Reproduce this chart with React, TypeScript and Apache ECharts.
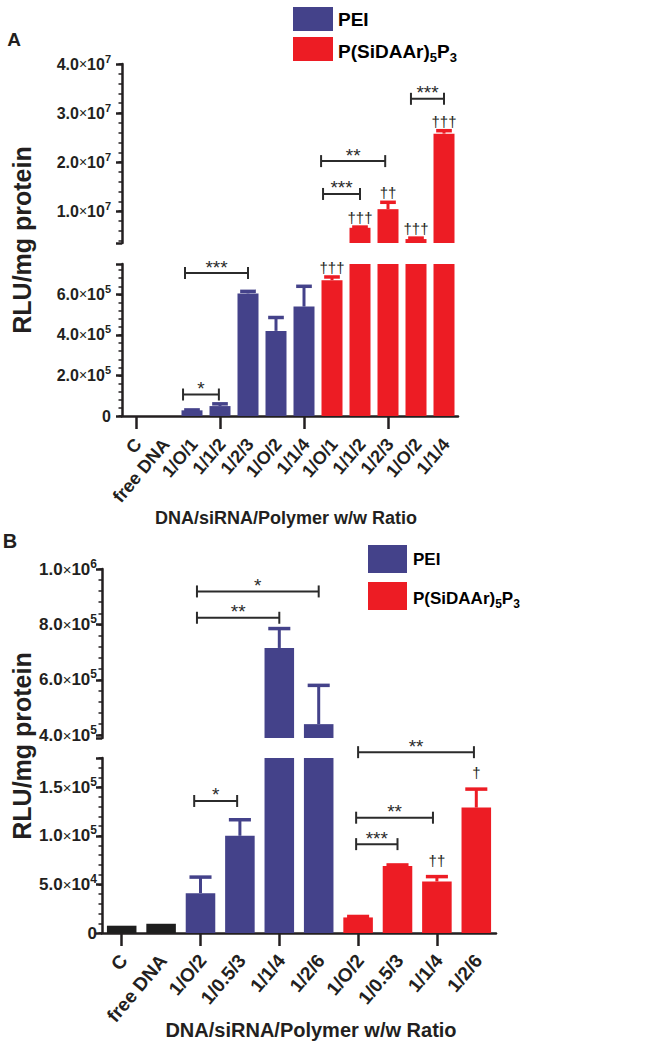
import React, { useEffect, useRef } from 'react';
import * as echarts from 'echarts';

const FONT = '"Liberation Sans", Arial, Helvetica, sans-serif';
const NAVY = '#44428a';
const RED = '#ed1c24';
const BLACK = '#1e1e1e';
const INK = '#231f20';

// ---------- Panel A data ----------
const catsA = ['C', 'free DNA', '1/O/1', '1/1/2', '1/2/3', '1/O/2', '1/1/4', '1/O/1', '1/1/2', '1/2/3', '1/O/2', '1/1/4'];
const groupA = ['ctrl', 'ctrl', 'PEI', 'PEI', 'PEI', 'PEI', 'PEI', 'PS', 'PS', 'PS', 'PS', 'PS'];
const meanA = [0, 0, 2.8e4, 4.9e4, 6.05e5, 4.2e5, 5.4e5, 6.7e5, 6.6e6, 1.04e7, 4.3e6, 2.58e7];
const errA = [0, 0, 0.2e4, 1.1e4, 1.0e4, 6.6e4, 1.0e5, 1.6e4, 1.5e5, 1.4e6, 2.0e5, 6.0e5];
const daggerA = ['', '', '', '', '', '', '', '†††', '†††', '††', '†††', '†††'];
const ticksAHigh = [1e7, 2e7, 3e7, 4e7];
const ticksALow = [0, 2e5, 4e5, 6e5];
const rangeAHigh = [3.5e6, 4e7];
const rangeALow = [0, 7.5e5];
const bracketsA = [
  { seg: 'low', from: 2, fromOff: -0.32, to: 3, toOff: -0.04, y: 1.06e5, text: '*' },
  { seg: 'low', from: 2, fromOff: -0.25, to: 4, toOff: 0, y: 7.05e5, text: '***' },
  { seg: 'high', from: 7, fromOff: -0.32, to: 8, toOff: 0, y: 1.35e7, text: '***' },
  { seg: 'high', from: 7, fromOff: -0.39, to: 9, toOff: -0.1, y: 2.02e7, text: '**' },
  { seg: 'high', from: 10, fromOff: -0.18, to: 11, toOff: 0, y: 3.29e7, text: '***' },
];

// ---------- Panel B data ----------
const catsB = ['C', 'free DNA', '1/O/2', '1/0.5/3', '1/1/4', '1/2/6', '1/O/2', '1/0.5/3', '1/1/4', '1/2/6'];
const groupB = ['ctrl', 'ctrl', 'PEI', 'PEI', 'PEI', 'PEI', 'PS', 'PS', 'PS', 'PS'];
const meanB = [7.5e3, 9.5e3, 4.1e4, 1.0e5, 7.15e5, 4.4e5, 1.6e4, 6.9e4, 5.3e4, 1.29e5];
const errB = [0, 0, 1.65e4, 1.65e4, 7.0e4, 1.4e5, 1.0e3, 1.0e3, 5.0e3, 1.9e4];
const daggerB = ['', '', '', '', '', '', '', '', '††', '†'];
const ticksBHigh = [4e5, 6e5, 8e5, 1e6];
const ticksBLow = [0, 5e4, 1e5, 1.5e5];
const rangeBHigh = [3.9e5, 1e6];
const rangeBLow = [0, 1.8e5];
const bracketsB = [
  { seg: 'high', from: 2, fromOff: -0.09, to: 5, toOff: 0, y: 9.19e5, text: '*' },
  { seg: 'high', from: 2, fromOff: -0.09, to: 4, toOff: 0, y: 8.24e5, text: '**' },
  { seg: 'low', from: 2, fromOff: -0.16, to: 3, toOff: -0.07, y: 1.358e5, text: '*' },
  { seg: 'low', from: 6, fromOff: 0, to: 9, toOff: -0.06, y: 1.86e5, text: '**' },
  { seg: 'low', from: 6, fromOff: -0.05, to: 8, toOff: -0.1, y: 1.186e5, text: '**' },
  { seg: 'low', from: 6, fromOff: -0.05, to: 7, toOff: 0, y: 9.14e4, text: '***' },
];

const legendNames = ['PEI', 'P(SiDAAr)5P3'];

function colorOf(g: string) {
  return g === 'PEI' ? NAVY : g === 'PS' ? RED : BLACK;
}

function sci(v: number) {
  if (v === 0) return '{m|0}';
  const e = Math.floor(Math.log10(v) + 1e-9);
  const m = (v / Math.pow(10, e)).toFixed(1);
  return `{m|${m}}{x|×}{m|10}{s|${e}}`;
}

function rich(size: number) {
  return {
    m: { fontSize: size, fontWeight: 'bold', fontFamily: FONT, color: INK, lineHeight: size + 6 },
    x: { fontSize: size - 2, fontFamily: FONT, color: INK, lineHeight: size + 6 },
    s: { fontSize: Math.round(size * 0.68), fontWeight: 'bold', fontFamily: FONT, color: INK, lineHeight: 10, verticalAlign: 'top' },
  };
}

function minorTicks(min: number, max: number, step: number) {
  const out: number[] = [];
  const k0 = Math.ceil(min / step - 1e-9);
  const k1 = Math.floor(max / step + 1e-9);
  for (let k = k0; k <= k1; k++) out.push(k * step);
  return out;
}

type Seg = {
  grid: { left: number; top: number; width: number; height: number };
  cats: string[];
  group: string[];
  mean: number[];
  err: number[];
  dagger: string[];
  range: number[];
  ticks: number[];
  minorStep: number;
  showX: boolean;
  labelSize: number;
  xLabelSize: number;
  labelMargin: number;
  xMargin: number;
  brackets: any[];
  daggerGap: number;
};

function buildOption() {
  const segs: Seg[] = [
    {
      grid: { left: 122, top: 64, width: 336, height: 179 },
      cats: catsA, group: groupA, mean: meanA, err: errA, dagger: daggerA,
      range: rangeAHigh, ticks: ticksAHigh, minorStep: 2e6, showX: false,
      labelSize: 16, xLabelSize: 18, labelMargin: 11, xMargin: 25,
      brackets: bracketsA.filter((b) => b.seg === 'high'), daggerGap: 2,
    },
    {
      grid: { left: 122, top: 264, width: 336, height: 152 },
      cats: catsA, group: groupA, mean: meanA, err: errA, dagger: daggerA,
      range: rangeALow, ticks: ticksALow, minorStep: 4e4, showX: true,
      labelSize: 16, xLabelSize: 18, labelMargin: 11, xMargin: 25,
      brackets: bracketsA.filter((b) => b.seg === 'low'), daggerGap: 2,
    },
    {
      grid: { left: 102, top: 569, width: 394, height: 169 },
      cats: catsB, group: groupB, mean: meanB, err: errB, dagger: daggerB,
      range: rangeBHigh, ticks: ticksBHigh, minorStep: 4e4, showX: false,
      labelSize: 17, xLabelSize: 19, labelMargin: 5, xMargin: 24,
      brackets: bracketsB.filter((b) => b.seg === 'high'), daggerGap: 9,
    },
    {
      grid: { left: 102, top: 758, width: 394, height: 175 },
      cats: catsB, group: groupB, mean: meanB, err: errB, dagger: daggerB,
      range: rangeBLow, ticks: ticksBLow, minorStep: 1e4, showX: true,
      labelSize: 17, xLabelSize: 19, labelMargin: 5, xMargin: 24,
      brackets: bracketsB.filter((b) => b.seg === 'low'), daggerGap: 9,
    },
  ];

  const grid: any[] = [];
  const xAxis: any[] = [];
  const yAxis: any[] = [];
  const series: any[] = [];

  segs.forEach((s, g) => {
    grid.push({ ...s.grid, containLabel: false });
    xAxis.push({
      type: 'category',
      gridIndex: g,
      data: s.cats,
      show: s.showX,
      axisLine: { show: true, lineStyle: { color: INK, width: 2.5 } },
      axisTick: { show: true, alignWithLabel: true, length: 13, lineStyle: { color: INK, width: 2.5 } },
      axisLabel: { show: false },
      splitLine: { show: false },
    });
    const [min, max] = s.range;
    const majorTicks = [min, ...s.ticks.filter((t) => t > min && t < max), max];
    yAxis.push({
      type: 'value',
      gridIndex: g,
      position: 'left',
      min,
      max,
      axisLine: { show: true, lineStyle: { color: INK, width: 2.5 } },
      axisTick: { show: true, length: 6, customValues: majorTicks, lineStyle: { color: INK, width: 2.5 } },
      axisLabel: {
        customValues: s.ticks,
        margin: s.labelMargin,
        formatter: (v: number) => sci(v),
        rich: rich(s.labelSize),
      },
      splitLine: { show: false },
    });
    yAxis.push({
      type: 'value',
      gridIndex: g,
      position: 'left',
      min,
      max,
      axisLine: { show: false },
      axisTick: { show: true, length: 3.5, customValues: minorTicks(min, max, s.minorStep), lineStyle: { color: INK, width: 1.5 } },
      axisLabel: { show: false },
      splitLine: { show: false },
    });
    const yi = g * 2;

    series.push({
      type: 'bar',
      xAxisIndex: g,
      yAxisIndex: yi,
      barWidth: '75%',
      clip: true,
      silent: true,
      data: s.mean.map((v, i) => ({ value: v, itemStyle: { color: colorOf(s.group[i]) } })),
    });

    const inRange = s.mean
      .map((v, i) => [i, v, s.err[i]])
      .filter((d) => d[1] > 0 && d[1] >= min && d[1] <= max);

    series.push({
      type: 'custom',
      xAxisIndex: g,
      yAxisIndex: yi,
      silent: true,
      encode: { x: 0, y: 1 },
      itemStyle: { color: INK },
      data: inRange.filter((d) => d[2] > 0),
      renderItem: (params: any, api: any) => {
        const i = api.value(0);
        const m = api.value(1);
        const e = api.value(2);
        const base = api.coord([i, m]);
        const top = api.coord([i, m + e]);
        const bw = api.size([1, 0])[0];
        const half = bw * 0.28;
        const color = colorOf(s.group[i]);
        return {
          type: 'group',
          children: [
            { type: 'line', shape: { x1: base[0], y1: base[1], x2: top[0], y2: top[1] }, style: { stroke: color, lineWidth: 3 } },
            { type: 'line', shape: { x1: top[0] - half, y1: top[1], x2: top[0] + half, y2: top[1] }, style: { stroke: color, lineWidth: 3.5 } },
          ],
        };
      },
    });

    series.push({
      type: 'custom',
      xAxisIndex: g,
      yAxisIndex: yi,
      silent: true,
      encode: { x: 0, y: 1 },
      itemStyle: { color: INK },
      data: inRange.filter((d) => s.dagger[d[0]] !== ''),
      renderItem: (params: any, api: any) => {
        const i = api.value(0);
        const top = api.coord([i, api.value(1) + api.value(2)]);
        return {
          type: 'text',
          x: top[0],
          y: top[1] - s.daggerGap,
          style: {
            text: s.dagger[i],
            align: 'center',
            verticalAlign: 'bottom',
            fontSize: 15,
            fontFamily: FONT,
            fill: INK,
          },
        };
      },
    });

    series.push({
      type: 'custom',
      xAxisIndex: g,
      yAxisIndex: yi,
      silent: true,
      clip: false,
      encode: { x: 0, y: 1 },
      itemStyle: { color: INK },
      data: s.brackets.map((b) => [b.from, b.y]),
      renderItem: (params: any, api: any) => {
        const b = s.brackets[params.dataIndex];
        const bw = api.size([1, 0])[0];
        const p1 = api.coord([b.from, b.y]);
        const p2 = api.coord([b.to, b.y]);
        const x1 = p1[0] + b.fromOff * bw;
        const x2 = p2[0] + b.toOff * bw;
        const y = p1[1];
        const st = { stroke: '#2b2b2b', lineWidth: 2 };
        return {
          type: 'group',
          children: [
            { type: 'line', shape: { x1, y1: y, x2, y2: y }, style: st },
            { type: 'line', shape: { x1, y1: y - 6, x2: x1, y2: y + 6 }, style: st },
            { type: 'line', shape: { x1: x2, y1: y - 6, x2, y2: y + 6 }, style: st },
            {
              type: 'text',
              x: (x1 + x2) / 2,
              y: y - 6,
              style: { text: b.text, align: 'center', verticalAlign: 'middle', fontSize: 19, fontFamily: FONT, fill: '#2b2b2b' },
            },
          ],
        };
      },
    });

    if (s.showX) {
      // rotated category labels, drawn at each category position of this axis
      series.push({
        type: 'custom',
        xAxisIndex: g,
        yAxisIndex: yi,
        silent: true,
        clip: false,
        encode: { x: 0, y: 1 },
        itemStyle: { color: INK },
        data: s.cats.map((c, i) => [i, min]),
        renderItem: (params: any, api: any) => {
          const i = api.value(0);
          const p = api.coord([i, min]);
          return {
            type: 'text',
            x: p[0] + 2,
            y: p[1] + s.xMargin,
            rotation: (50 * Math.PI) / 180,
            style: {
              text: s.cats[i],
              align: 'right',
              verticalAlign: 'middle',
              fontSize: s.xLabelSize,
              fontWeight: 'bold',
              fontFamily: FONT,
              fill: INK,
            },
          };
        },
      });
    }
  });

  const legendRich = (size: number) => ({
    n: { fontSize: size, fontWeight: 'bold', fontFamily: FONT, lineHeight: size + 6, color: INK },
    sub: { fontSize: Math.round(size * 0.68), fontWeight: 'bold', fontFamily: FONT, lineHeight: 14, verticalAlign: 'bottom', color: INK },
  });
  const psText = '{n|P(SiDAAr)}{sub|5}{n|P}{sub|3}';

  const legend = (x: number, y1: number, y2: number, w: number, h: number, tx: number, size: number) => [
    { type: 'rect', shape: { x, y: y1, width: w, height: h }, style: { fill: NAVY } },
    { type: 'rect', shape: { x, y: y2, width: w, height: h }, style: { fill: RED } },
    {
      type: 'text', x: tx, y: y1 + h / 2,
      style: { text: '{n|' + legendNames[0] + '}', rich: legendRich(size), verticalAlign: 'middle', align: 'left' },
    },
    {
      type: 'text', x: tx, y: y2 + h / 2 + 2,
      style: { text: psText, rich: legendRich(size), verticalAlign: 'middle', align: 'left' },
    },
  ];

  const boldText = (text: string, x: number, y: number, size: number, extra: any = {}) => ({
    type: 'text', x, y, ...extra,
    style: { text, fontSize: size, fontWeight: 'bold', fontFamily: FONT, fill: INK, align: 'center', verticalAlign: 'middle' },
  });

  const graphic = [
    ...legend(293, 7, 37, 40, 24, 338, 19),
    ...legend(368, 545, 582, 39, 28, 413, 17),
    boldText('A', 14, 39, 19),
    boldText('B', 10, 541, 20),
    boldText('RLU/mg protein', 22, 240, 25, { rotation: Math.PI / 2 }),
    boldText('RLU/mg protein', 22, 746, 25, { rotation: Math.PI / 2 }),
    boldText('DNA/siRNA/Polymer w/w Ratio', 286, 518, 18),
    boldText('DNA/siRNA/Polymer w/w Ratio', 311, 1030, 20),
  ];

  return {
    animation: false,
    backgroundColor: '#ffffff',
    textStyle: { fontFamily: FONT },
    grid,
    xAxis,
    yAxis,
    series,
    graphic,
  };
}

export default function App() {
  const ref = useRef<HTMLDivElement>(null);
  useEffect(() => {
    if (!ref.current) return;
    const chart = echarts.init(ref.current, null, { renderer: 'svg' });
    chart.setOption(buildOption() as any);
    return () => chart.dispose();
  }, []);
  return <div ref={ref} style={{ position: 'absolute', left: 0, top: 0, width: 652, height: 1050 }} />;
}
